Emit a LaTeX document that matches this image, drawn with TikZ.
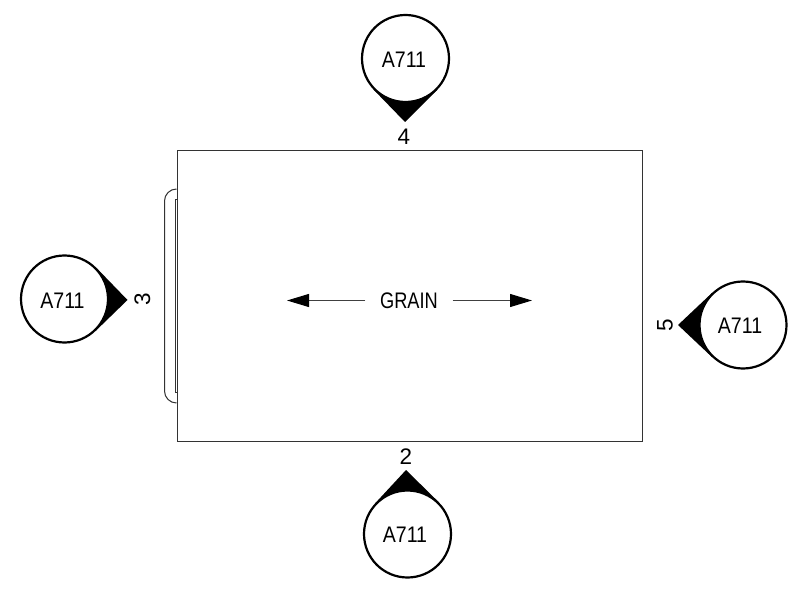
\documentclass[tikz,border=0pt]{standalone}
\usepackage{fontspec}
\usepackage{graphicx}
\setmainfont{Liberation Sans}
\usetikzlibrary{arrows.meta,backgrounds,calc}
\newcommand{\tallfont}[2][0.8]{\scalebox{#1}[1]{\fontsize{22.5}{22.5}\selectfont #2}}
\tikzset{
  bubble/.style={circle,draw,line width=2.2pt,minimum size=87pt,inner sep=0pt,fill=white},
  bubbletext/.style={inner sep=0pt},
  digit/.style={inner sep=0pt,font=\fontsize{22.5}{22.5}\selectfont},
  grainline/.style={line width=1pt,black!75,-{Triangle[length=22pt,width=13pt,black]}},
  outline/.style={line width=1pt,black!80}
}
\begin{document}
\begin{tikzpicture}[x=1pt,y=-1pt]
    \useasboundingbox (0,0) rectangle (800,593);
    \node[draw,outline,minimum width=465pt,minimum height=290pt,inner sep=0pt] (panel) at (409.5,296) {};
    \node[inner xsep=14.5pt,inner ysep=0pt] (grain) at (409,301) {\tallfont[0.81]{GRAIN}};
    \coordinate (grainleft) at (287,300.5);
    \coordinate (grainright) at (532,300.5);
    \draw[grainline] (grain.west |- grainleft) -- (grainleft);
    \draw[grainline] (grain.east |- grainright) -- (grainright);
    \node[bubble] (top) at (405.5,58.5) {};
    \node[bubble] (left) at (64.5,299) {};
    \node[bubble] (right) at (743,325) {};
    \node[bubble] (bottom) at (407.5,534) {};
    \node[bubbletext] (toptext) at (404,60) {\tallfont[0.87]{A711}};
    \node[bubbletext] (lefttext) at (62.5,300.5) {\tallfont[0.87]{A711}};
    \node[bubbletext] (righttext) at (740,326) {\tallfont[0.87]{A711}};
    \node[bubbletext] (bottomtext) at (405,535) {\tallfont[0.87]{A711}};
    \coordinate (toptip) at (405,122);
    \coordinate (lefttip) at (127.5,300);
    \coordinate (righttip) at (678,325);
    \coordinate (bottomtip) at (406,470);
    \begin{scope}[on background layer]
      \foreach \name in {top,left,right,bottom}
        \fill (\name tip) -- (tangent cs:node=\name,point={(\name tip)},solution=1)
          -- (\name.center) -- (tangent cs:node=\name,point={(\name tip)},solution=2) -- cycle;
    \end{scope}
    \node[digit] (num4) at (404,137) {4};
    \node[digit] (num2) at (406,457) {2};
    \node[digit,rotate=90] (num3) at (142.5,299.5) {3};
    \node[digit,rotate=90] (num5) at (665,325.5) {5};
    % handle on the left edge
    \coordinate (handletop) at (panel.west |- 0,189);
    \coordinate (handlebot) at (panel.west |- 0,403);
    \draw[outline,rounded corners=12pt] (handletop) -- (164.5,189) -- (164.5,403) -- (handlebot);
    \draw[outline] (panel.west |- 0,200) -- (175.5,200) -- (175.5,392) -- (panel.west |- 0,392);
\end{tikzpicture}
\end{document}
